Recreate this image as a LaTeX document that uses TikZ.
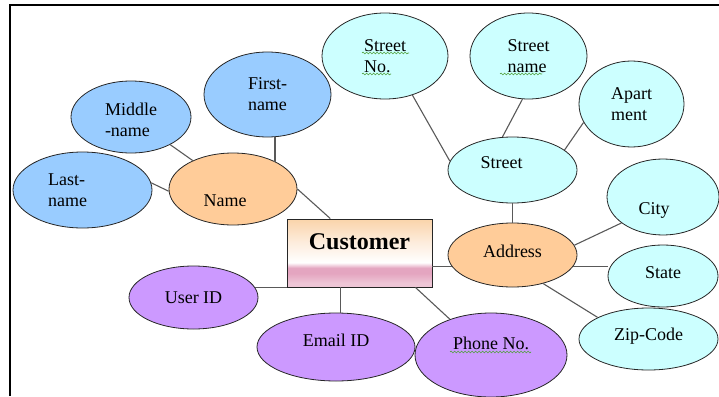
\documentclass[tikz,border=0pt]{standalone}
\usepackage{fontspec}
\setmainfont{Liberation Serif}
\usetikzlibrary{shapes.geometric,calc,decorations.pathmorphing}

\definecolor{nameblue}{RGB}{153,204,255}
\definecolor{keypeach}{RGB}{255,204,153}
\definecolor{addrcyan}{RGB}{204,255,255}
\definecolor{idpurple}{RGB}{204,153,255}
\definecolor{custpeach}{RGB}{250,212,170}
\definecolor{custpeachlt}{RGB}{253,236,220}
\definecolor{custpink}{RGB}{228,165,192}
\definecolor{custpinklt}{RGB}{238,198,214}
\definecolor{wavegreen}{RGB}{80,160,60}

\pgfdeclareverticalshading{custfill}{100bp}{color(0bp)=(custpinklt); color(28bp)=(custpinklt); color(35bp)=(custpink); color(39bp)=(custpink); color(43bp)=(white); color(58bp)=(custpeachlt); color(75bp)=(custpeach); color(100bp)=(custpeach)}

\begin{document}
\begin{tikzpicture}[x=1pt,y=-1pt,
	font=\fontsize{18}{21}\selectfont,
	attr/.style={shape=ellipse,draw=black!85,line width=0.8pt,inner sep=0pt,align=left},
	blueattr/.style={attr,fill=nameblue},
	peachattr/.style={attr,fill=keypeach},
	cyanattr/.style={attr,fill=addrcyan},
	purpleattr/.style={attr,fill=idpurple},
	entity/.style={shape=rectangle,draw=black!85,line width=0.8pt,shading=custfill,minimum width=145pt,minimum height=68pt},
	txt/.style={align=left},
	link/.style={draw=black!65,line width=1.1pt},
	spellwave/.style={draw=wavegreen,line width=0.6pt,decorate,decoration={snake,amplitude=0.9pt,segment length=3.5pt}}]

	\useasboundingbox (0,0) rectangle (719,396);
	\draw[line width=2pt] (10,396) -- (10,5) -- (719,5);

	% name part
	\node[blueattr,minimum width=120pt,minimum height=72pt,label={[txt,yshift=-3pt]center:Middle\\-name}] (middle) at (131,117) {};
	\node[blueattr,minimum width=127pt,minimum height=85pt] (first) at (267.5,94.5) {First-\\name};
	\node[blueattr,minimum width=139pt,minimum height=76pt,label={[txt,xshift=-15pt]center:Last-\\name}] (last) at (82.5,190) {};
	\node[peachattr,minimum width=128pt,minimum height=72pt,label={[xshift=-8pt,yshift=-12pt]center:Name}] (name) at (233,189) {};

	% address part
	\node[cyanattr,minimum width=126pt,minimum height=86pt] (streetno) at (385,56) {Street\\No.};
	\node[cyanattr,minimum width=117pt,minimum height=86pt] (streetname) at (528.5,56) {Street\\name};
	\node[cyanattr,minimum width=105pt,minimum height=86pt] (apartment) at (631.5,104) {Apart\\ment};
	\node[cyanattr,minimum width=129pt,minimum height=66pt,label={[xshift=-11pt,yshift=7pt]center:Street}] (street) at (512.5,170) {};
	\node[cyanattr,minimum width=112pt,minimum height=76pt,label={[xshift=-9pt,yshift=-13pt]center:City}] (city) at (663,197) {};
	\node[cyanattr,minimum width=110pt,minimum height=62pt,label={[yshift=3pt]center:State}] (state) at (663,276) {};
	\node[cyanattr,minimum width=139pt,minimum height=62pt,label={[yshift=3pt]center:Zip-Code}] (zip) at (648.5,339) {};
	\node[peachattr,minimum width=129pt,minimum height=64pt,label={[yshift=4pt]center:Address}] (address) at (512.5,255) {};

	% entity and ids
	\node[entity,label={[yshift=11pt]center:{\fontsize{24}{26}\selectfont\bfseries Customer}}] (customer) at (359.5,253) {};
	\node[purpleattr,minimum width=129pt,minimum height=63pt] (userid) at (193.5,297.5) {User ID};
	\node[purpleattr,minimum width=158pt,minimum height=68pt,label={[yshift=7pt]center:Email ID}] (email) at (336,347) {};
	\node[purpleattr,minimum width=152pt,minimum height=84pt,label={[yshift=12pt]center:Phone No.}] (phone) at (491,355) {};

	% spelling marks
	\path[spellwave] (362,53) -- (409,53);
	\path[spellwave] (362,74) -- (391,74);
	\path[spellwave] (500,74) -- (542,74);
	\path[spellwave] (450,352) -- (531,352);

	\path[link] (middle) -- (name);
	\path[link] (first.280) -- (first.280 |- name.33);
	\path[link] (last.6) -- (name.182);
	\path[link] (name.east) -- ($(customer.north west)!0.3!(customer.north east)$);
	\path[link] (userid.9) -- (userid.9 -| customer.west);
	\path[link] (email.83) -- (email.83 |- customer.south);
	\path[link] ([xshift=-17pt]customer.south east) -- (phone.139);
	\path[link] (address.191) -- (address.191 -| customer.east);
	\path[link] (street) -- (address);
	\path[link] (streetno.305) -- (street.172);
	\path[link] (streetname.262) -- (street.107);
	\path[link] (apartment.201) -- (street.21);
	\path[link] (address.9) -- (city.212);
	\path[link] (address.349) -- (address.349 -| state.west);
	\path[link] (address.317) -- (zip.157);
\end{tikzpicture}
\end{document}
